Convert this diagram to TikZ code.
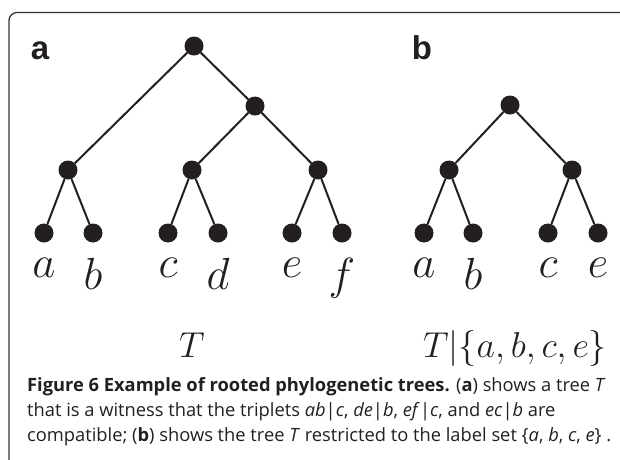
\RequirePackage{fix-cm}
\documentclass[tikz,border=0pt]{standalone}
\usepackage{fontspec}
\newfontfamily\capfont{Open Sans}
\newfontfamily\panelfont{Liberation Sans}
\usetikzlibrary{positioning}
\definecolor{ink}{HTML}{231F20}
\definecolor{frame}{HTML}{333333}
\begin{document}
\begin{tikzpicture}[x=1pt,y=-1pt,
  dot/.style={circle,fill=ink,inner sep=0pt,minimum size=19pt},
  edge/.style={draw=ink,line width=2pt},
  leaflbl/.style={inner sep=0pt,text=ink,font=\fontsize{45}{50}\selectfont},
  treelbl/.style={inner sep=0pt,text=ink,anchor=base,font=\fontsize{36}{40}\selectfont},
  panel/.style={inner sep=0pt,text=ink,anchor=base,font=\panelfont\bfseries\fontsize{33}{36}\selectfont},
  capline/.style={inner sep=0pt,text=ink,anchor=base west,font=\capfont\fontsize{18.3}{21}\selectfont}
]
\useasboundingbox (0,0) rectangle (620,459);
\draw[frame,line width=1.3pt,rounded corners=8pt] (9,470) -- (9,12.5) -- (630,12.5);

% panel labels
\node[panel] (pa) at (40,59) {a};
\node[panel] (pb) at (422,59) {b};

% tree T
\node[dot] (r)  at (194,46) {};
\node[dot] (rr) at (255,106) {};
\node[dot] (ab) at (68,170) {};
\node[dot] (cd) at (192,170) {};
\node[dot] (ef) at (318,170) {};
\node[dot] (la) at (44,233) {};
\node[dot] (lb) at (93,233) {};
\node[dot] (lc) at (168,233) {};
\node[dot] (ld) at (218,233) {};
\node[dot] (le) at (292,233) {};
\node[dot] (lf) at (342,233) {};
\draw[edge] (r) -- (ab);
\draw[edge] (r) -- (rr);
\draw[edge] (rr) -- (cd);
\draw[edge] (rr) -- (ef);
\draw[edge] (ab) -- (la);
\draw[edge] (ab) -- (lb);
\draw[edge] (cd) -- (lc);
\draw[edge] (cd) -- (ld);
\draw[edge] (ef) -- (le);
\draw[edge] (ef) -- (lf);
\node[leaflbl,below=15.5pt of la] (ta) {$a$};
\node[leaflbl,below=15.5pt of lb] (tb) {$b$};
\node[leaflbl,below=15.5pt of lc] (tc) {$c$};
\node[leaflbl,below=15.5pt of ld] (td) {$d$};
\node[leaflbl,below=15.5pt of le] (te) {$e$};
\node[leaflbl,below=15.5pt of lf] (tf) {$f$};
\node[treelbl] (tT) at (192,357) {$T$};

% restricted tree
\node[dot] (s)  at (510,105) {};
\node[dot] (sl) at (449,170) {};
\node[dot] (sr) at (572,170) {};
\node[dot] (ma) at (424,233) {};
\node[dot] (mb) at (473,233) {};
\node[dot] (mc) at (548,233) {};
\node[dot] (me) at (598,233) {};
\draw[edge] (s) -- (sl);
\draw[edge] (s) -- (sr);
\draw[edge] (sl) -- (ma);
\draw[edge] (sl) -- (mb);
\draw[edge] (sr) -- (mc);
\draw[edge] (sr) -- (me);
\node[leaflbl,below=15.5pt of ma] (ua) {$a$};
\node[leaflbl,below=15.5pt of mb] (ub) {$b$};
\node[leaflbl,below=15.5pt of mc] (uc) {$c$};
\node[leaflbl,below=15.5pt of me] (ue) {$e$};
\node[treelbl] (tR) at (515,357) {$T|\{a,b,c,e\}$};

% caption
\node[capline] (c1) at (27,391) {\textbf{Figure 6 Example of rooted phylogenetic trees.} (\textbf{a}) shows a tree \textit{T}};
\node[capline] (c2) at (27,416) {that is a witness that the triplets \textit{ab}|\textit{c}, \textit{de}|\textit{b}, \textit{ef}|\textit{c}, and \textit{ec}|\textit{b} are};
\node[capline] (c3) at (27,441) {compatible; (\textbf{b}) shows the tree \textit{T} restricted to the label set \{\textit{a}, \textit{b}, \textit{c}, \textit{e}\} .};
\end{tikzpicture}
\end{document}
